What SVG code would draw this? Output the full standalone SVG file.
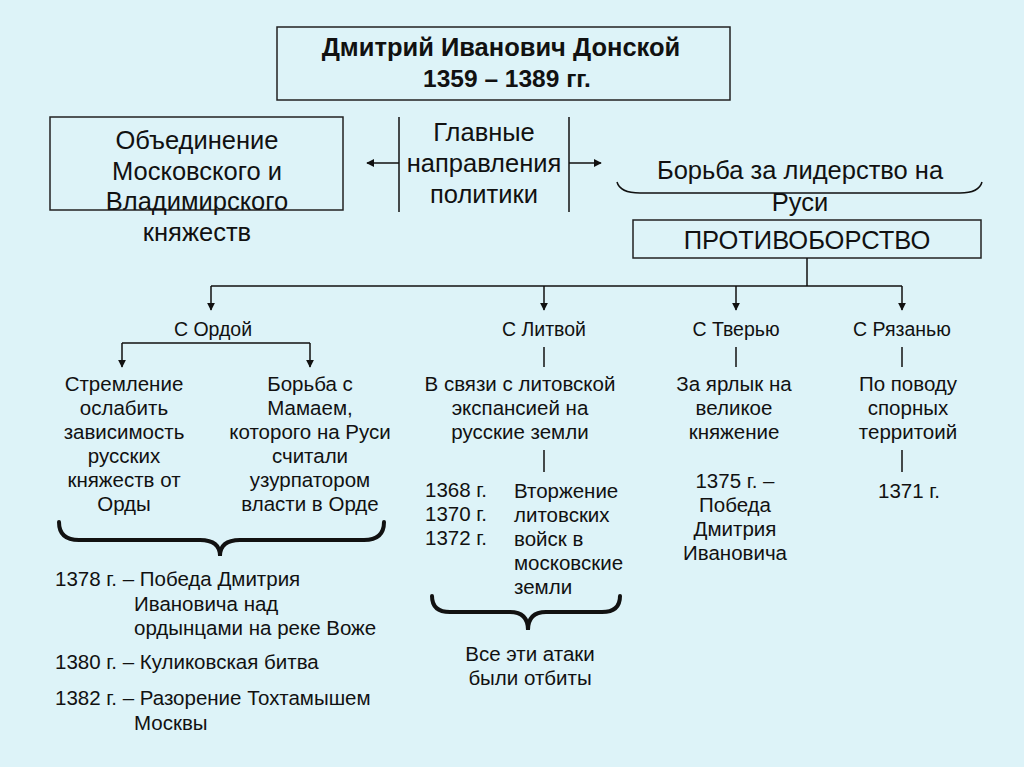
<svg xmlns="http://www.w3.org/2000/svg" width="1024" height="767" viewBox="0 0 1024 767">
<defs>
<style>
text{font-family:"Liberation Sans",Arial,sans-serif;fill:#111}
.t{font-size:20.5px}
.c{text-anchor:middle}
.big{font-size:25.5px}
.lab{font-size:19.5px}
.box{fill:none;stroke:#222;stroke-width:1.5}
.ln{fill:none;stroke:#111;stroke-width:1.5}
.br{fill:none;stroke:#111;stroke-width:4;stroke-linecap:round}
</style>
<marker id="ah" viewBox="0 0 10 10" refX="9" refY="5" markerWidth="8" markerHeight="8" markerUnits="userSpaceOnUse" orient="auto"><path d="M0,0 L10,5 L0,10 z" fill="#111"/></marker>
</defs>
<rect width="1024" height="767" fill="#ddf3f8"/>

<g id="title">
<rect class="box" x="277" y="27" width="453" height="73"/>
<text x="501" y="56" class="c" style="font-size:25.5px;font-weight:bold">Дмитрий Иванович Донской</text>
<text x="507" y="87" class="c" style="font-size:24.5px;font-weight:bold">1359 – 1389 гг.</text>
</g>

<g id="unite">
<rect class="box" x="50" y="117" width="293" height="93"/>
<text class="big c" x="197" y="149">Объединение</text>
<text class="big c" x="197" y="180">Московского и</text>
<text class="big c" x="197" y="210">Владимирского</text>
<text class="big c" x="197" y="241">княжеств</text>
</g>

<g id="main">
<text class="big c" x="484" y="141">Главные</text>
<text class="big c" x="484" y="172">направления</text>
<text class="big c" x="484" y="203">политики</text>
</g>

<g id="leader">
<text class="big c" x="800" y="179">Борьба за лидерство на</text>
<text class="big c" x="800" y="211">Руси</text>
</g>

<g id="protiv">
<rect class="box" x="633" y="220" width="348" height="38"/>
<text class="big c" x="807" y="249">ПРОТИВОБОРСТВО</text>
</g>

<g id="orda">
<text class="lab c" x="213" y="336">С Ордой</text>
</g>
<g id="litva">
<text class="lab c" x="544" y="336">С Литвой</text>
</g>
<g id="tver">
<text class="lab c" x="736" y="336">С Тверью</text>
</g>
<g id="ryazan">
<text class="lab c" x="902" y="336">С Рязанью</text>
</g>

<g id="orda-left">
<text class="t c" x="124" y="391">Стремление</text>
<text class="t c" x="124" y="415">ослабить</text>
<text class="t c" x="124" y="439">зависимость</text>
<text class="t c" x="124" y="463">русских</text>
<text class="t c" x="124" y="487">княжеств от</text>
<text class="t c" x="124" y="511">Орды</text>
</g>
<g id="orda-right">
<text class="t c" x="310" y="391">Борьба с</text>
<text class="t c" x="310" y="415">Мамаем,</text>
<text class="t c" x="310" y="439">которого на Руси</text>
<text class="t c" x="310" y="463">считали</text>
<text class="t c" x="310" y="487">узурпатором</text>
<text class="t c" x="310" y="511">власти в Орде</text>
</g>

<g id="orda-events">
<text class="t" x="55" y="586">1378 г. – Победа Дмитрия</text>
<text class="t" x="134" y="611">Ивановича над</text>
<text class="t" x="134" y="635">ордынцами на реке Воже</text>
<text class="t" x="55" y="669">1380 г. – Куликовская битва</text>
<text class="t" x="55" y="705">1382 г. – Разорение Тохтамышем</text>
<text class="t" x="134" y="730">Москвы</text>
</g>

<g id="litva-cause">
<text class="t c" x="520" y="391">В связи с литовской</text>
<text class="t c" x="520" y="415">экспансией на</text>
<text class="t c" x="520" y="439">русские земли</text>
</g>
<g id="litva-events">
<text class="t" x="425" y="497">1368 г.</text>
<text class="t" x="425" y="521">1370 г.</text>
<text class="t" x="425" y="545">1372 г.</text>
<text class="t" x="514" y="498">Вторжение</text>
<text class="t" x="514" y="522">литовских</text>
<text class="t" x="514" y="546">войск в</text>
<text class="t" x="514" y="570">московские</text>
<text class="t" x="514" y="594">земли</text>
</g>
<g id="litva-result">
<text class="t c" x="530" y="661">Все эти атаки</text>
<text class="t c" x="530" y="685">были отбиты</text>
</g>

<g id="tver-cause">
<text class="t c" x="734" y="391">За ярлык на</text>
<text class="t c" x="734" y="415">великое</text>
<text class="t c" x="734" y="439">княжение</text>
</g>
<g id="tver-event">
<text class="t c" x="735" y="488">1375 г. –</text>
<text class="t c" x="735" y="512">Победа</text>
<text class="t c" x="735" y="536">Дмитрия</text>
<text class="t c" x="735" y="560">Ивановича</text>
</g>

<g id="ryazan-cause">
<text class="t c" x="908" y="391">По поводу</text>
<text class="t c" x="908" y="415">спорных</text>
<text class="t c" x="908" y="439">территоий</text>
</g>
<g id="ryazan-event">
<text class="t c" x="909" y="498">1371 г.</text>
</g>

<g id="connectors">
<line class="ln" x1="399" y1="117" x2="399" y2="212"/>
<line class="ln" x1="569" y1="117" x2="569" y2="212"/>
<line class="ln" x1="399" y1="163" x2="367" y2="163" marker-end="url(#ah)"/>
<line class="ln" x1="569" y1="163" x2="601" y2="163" marker-end="url(#ah)"/>
<path class="ln" d="M617,182 Q620,193 640,193 L960,193 Q979,193 982,182"/>
<polyline class="ln" points="807,258 807,286"/>
<line class="ln" x1="211" y1="286" x2="902" y2="286"/>
<line class="ln" x1="211" y1="286" x2="211" y2="310" marker-end="url(#ah)"/>
<line class="ln" x1="544" y1="286" x2="544" y2="310" marker-end="url(#ah)"/>
<line class="ln" x1="736" y1="286" x2="736" y2="310" marker-end="url(#ah)"/>
<line class="ln" x1="902" y1="286" x2="902" y2="310" marker-end="url(#ah)"/>
<line class="ln" x1="122" y1="343" x2="310" y2="343"/>
<line class="ln" x1="122" y1="343" x2="122" y2="367" marker-end="url(#ah)"/>
<line class="ln" x1="310" y1="343" x2="310" y2="367" marker-end="url(#ah)"/>
<line class="ln" x1="544" y1="347" x2="544" y2="367"/>
<line class="ln" x1="736" y1="347" x2="736" y2="367"/>
<line class="ln" x1="902" y1="347" x2="902" y2="367"/>
<line class="ln" x1="544" y1="450" x2="544" y2="472"/>
<line class="ln" x1="902" y1="450" x2="902" y2="472"/>
<path class="br" d="M59,522 Q59,540 79,540 L200,540 Q220,540 220,556 Q220,540 240,540 L364,540 Q384,540 384,522"/>
<path class="br" d="M432,596 Q432,612 450,612 L510,612 Q528,612 528,630 Q528,612 546,612 L602,612 Q620,612 620,596"/>
</g>
</svg>
